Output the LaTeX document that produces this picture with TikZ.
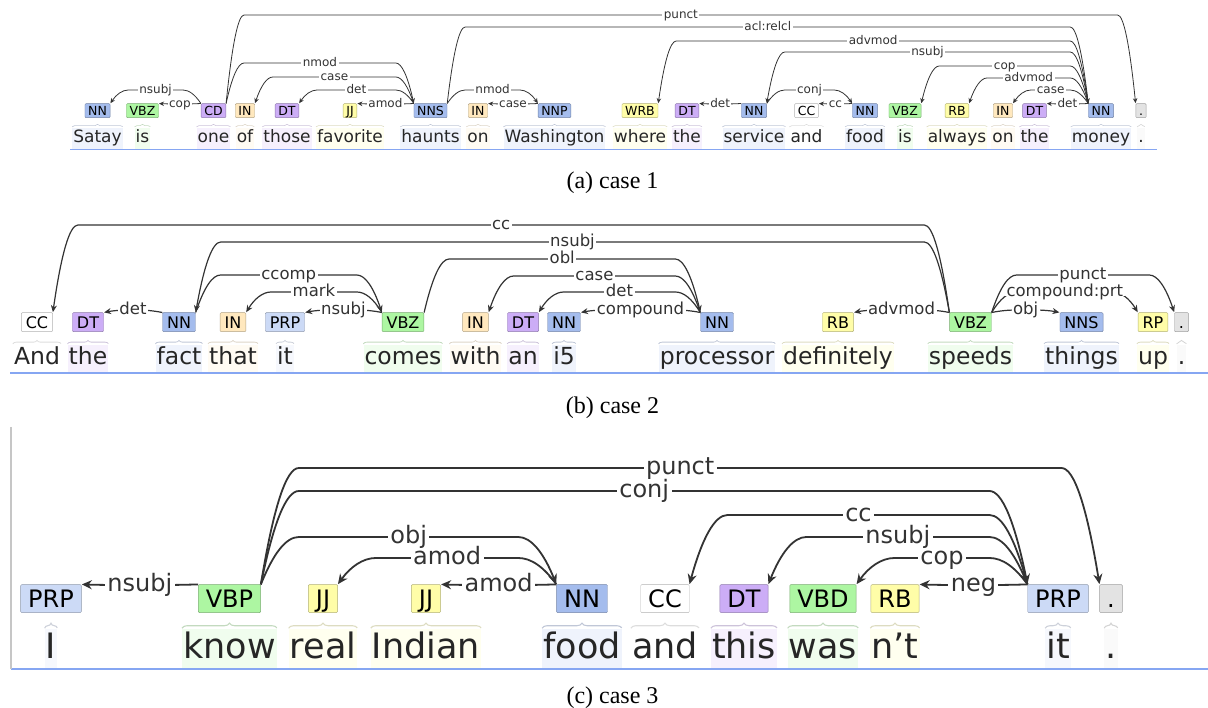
\documentclass[tikz,border=0pt]{standalone}
\usepackage{fontspec}
\setmainfont{Liberation Serif}
\newfontfamily\bratfont{DejaVu Sans}
\usetikzlibrary{positioning,calc,arrows.meta,decorations.pathreplacing}

\definecolor{nnc}{HTML}{A4BCED}
\definecolor{prpc}{HTML}{CCDAF6}
\definecolor{vbc}{HTML}{ADF6A2}
\definecolor{dtc}{HTML}{CCADF6}
\definecolor{inc}{HTML}{FFE8BE}
\definecolor{jjc}{HTML}{FFFDA8}
\definecolor{ccc}{HTML}{FFFFFF}
\definecolor{dotc}{HTML}{E3E3E3}
\definecolor{rulec}{HTML}{86A6F2}

\tikzset{
  word/.style={anchor=base,inner xsep=1pt,inner ysep=2pt,text=black!85},
  tag/.style={draw,rounded corners=1pt,inner ysep=0pt,text depth=0pt},
  lbl/.style={fill=white,inner xsep=1.5pt,inner ysep=0pt,text depth=0pt,text=black!80},
  deparc/.style={->,draw=black!80},
  caption/.style={anchor=base,font=\fontsize{24}{28}\selectfont},
  rule/.style={draw=rulec,line width=1.5pt}
}

% word with its tag above it: name, x, word, tag, colour
\newcommand{\wtok}[5]{%
  \node[word,fill=#5!18] (w#1) at (#2,\wbase) {#3};
  \node[tag,fill=#5,draw=#5!70!black,above=\tgap of w#1] (t#1) {#4};
  \draw[brace,draw=#5!70!black!45] ([yshift=1pt]w#1.north west) -- ([yshift=1pt]w#1.north east);
}

% dependency arc: head anchor, dependent anchor, level, label
\newcommand{\deparc}[4]{%
  \path (#1 |- 0,#3) coordinate (la) (#2 |- 0,#3) coordinate (lb);
  \path ($(la)!\abend!(lb)$) coordinate (ca) ($(lb)!\abend!(la)$) coordinate (cb)
        ($(la)!0.5*\abend!(lb)$) coordinate (qa) ($(lb)!0.5*\abend!(la)$) coordinate (qb);
  \draw[deparc] (#1) .. controls ($(#1)!0.667!(qa)$) and ($(ca)!0.667!(qa)$) .. (ca)
    -- node[lbl] {#4} (cb) .. controls ($(cb)!0.667!(qb)$) and ($(#2)!0.667!(qb)$) .. (#2);
}

\begin{document}
\begin{tikzpicture}[x=1pt,y=-1pt,shorten >=0.3pt]
\useasboundingbox (0,0) rectangle (1208,708);

%% case 1
\begin{scope}[word/.append style={font=\bratfont\fontsize{17}{17}\selectfont,text height=12.9pt,text depth=4pt},
  tag/.append style={font=\bratfont\fontsize{12.5}{12.5}\selectfont,text height=9.1pt,minimum height=14pt,inner xsep=3.2pt},
  lbl/.append style={font=\bratfont\fontsize{12}{12}\selectfont,text height=6.5pt},
  deparc/.append style={line width=0.8pt},
  brace/.style={decorate,decoration={brace,amplitude=2.5pt},line width=0.6pt},
  >={Stealth[length=5pt,width=4.5pt]}]
\def\wbase{143}\def\tgap{10pt}\def\abend{18pt}

\wtok{asatay}{97.5}{Satay}{NN}{nnc}
\wtok{aisA}{142.5}{is}{VBZ}{vbc}
\wtok{aone}{213.5}{one}{CD}{dtc}
\wtok{aof}{245}{of}{IN}{inc}
\wtok{athose}{287}{those}{DT}{dtc}
\wtok{afav}{350}{favorite}{JJ}{jjc}
\wtok{ahaunts}{430.5}{haunts}{NNS}{nnc}
\wtok{aonA}{478}{on}{IN}{inc}
\wtok{awash}{554.5}{Washington}{NNP}{nnc}
\wtok{awhere}{640}{where}{WRB}{jjc}
\wtok{atheA}{687}{the}{DT}{dtc}
\wtok{aservice}{754}{service}{NN}{nnc}
\wtok{aand}{806.5}{and}{CC}{ccc}
\wtok{afood}{865}{food}{NN}{nnc}
\wtok{aisB}{905}{is}{VBZ}{vbc}
\wtok{aalways}{957}{always}{RB}{jjc}
\wtok{aonB}{1003}{on}{IN}{inc}
\wtok{atheB}{1034.5}{the}{DT}{dtc}
\wtok{amoney}{1101}{money}{NN}{nnc}
\wtok{adot}{1141}{.}{.}{dotc}

\deparc{taone.north east}{tadot.north west}{15}{punct}
\deparc{tahaunts.north east}{tamoney.north west}{27}{acl:relcl}
\deparc{tamoney.north west}{tawhere.north east}{41}{advmod}
\deparc{tamoney.north west}{taservice.north east}{52}{nsubj}
\deparc{tamoney.north west}{taisB.north east}{66}{cop}
\deparc{tamoney.north west}{taalways.north east}{78}{advmod}
\deparc{tamoney.north west}{taonB.north east}{90}{case}
\deparc{tamoney.north west}{tatheB.north east}{104}{det}
\deparc{taservice.north east}{tafood.north west}{90}{conj}
\deparc{tafood.north west}{taand.north east}{104}{cc}
\deparc{taservice.north west}{tatheA.north east}{104}{det}
\deparc{tahaunts.north east}{tawash.north west}{90}{nmod}
\deparc{tawash.north west}{taonA.north east}{104}{case}
\deparc{taone.north east}{tahaunts.north west}{63}{nmod}
\deparc{tahaunts.north west}{taof.north east}{77}{case}
\deparc{tahaunts.north west}{tathose.north east}{90}{det}
\deparc{tahaunts.north west}{tafav.north east}{104}{amod}
\deparc{taone.north west}{tasatay.north east}{90}{nsubj}
\deparc{taone.north west}{taisA.north east}{104}{cop}

\draw[rule,line width=1.2pt] (70,149.5) -- (1157,149.5);
\end{scope}
\node[caption] (capa) at (612.5,189) {(a) case 1};

%% case 2
\begin{scope}[word/.append style={font=\bratfont\fontsize{23.5}{23.5}\selectfont,text height=17.9pt,text depth=5.6pt},
  tag/.append style={font=\bratfont\fontsize{16}{16}\selectfont,text height=11.7pt,minimum height=19pt,inner xsep=4.5pt},
  lbl/.append style={font=\bratfont\fontsize{16.5}{16.5}\selectfont,text height=9pt},
  deparc/.append style={line width=1.2pt},
  brace/.style={decorate,decoration={brace,amplitude=3.5pt},line width=0.8pt},
  >={Stealth[length=7pt,width=6pt]}]
\def\wbase{365}\def\tgap{13pt}\def\abend{25pt}

\wtok{band}{37}{And}{CC}{ccc}
\wtok{bthe}{88}{the}{DT}{dtc}
\wtok{bfact}{179}{fact}{NN}{nnc}
\wtok{bthat}{233}{that}{IN}{inc}
\wtok{bit}{285}{it}{PRP}{prpc}
\wtok{bcomes}{403}{comes}{VBZ}{vbc}
\wtok{bwith}{475.5}{with}{IN}{inc}
\wtok{ban}{523}{an}{DT}{dtc}
\wtok{bifive}{564}{i5}{NN}{nnc}
\wtok{bproc}{717}{processor}{NN}{nnc}
\wtok{bdef}{838}{definitely}{RB}{jjc}
\wtok{bspeeds}{970.5}{speeds}{VBZ}{vbc}
\wtok{bthings}{1081.5}{things}{NNS}{nnc}
\wtok{bup}{1153}{up}{RP}{jjc}
\wtok{bdot}{1181.5}{.}{.}{dotc}

\deparc{tbspeeds.north west}{tband.north east}{225}{cc}
\deparc{tbspeeds.north west}{tbfact.north east}{242}{nsubj}
\deparc{tbcomes.north east}{tbproc.north west}{259}{obl}
\deparc{tbfact.north east}{tbcomes.north west}{275}{ccomp}
\deparc{tbcomes.north west}{tbthat.north east}{292}{mark}
\deparc{tbcomes.north west}{tbit.north east}{310}{nsubj}
\deparc{tbfact.north west}{tbthe.north east}{310}{det}
\deparc{tbproc.north west}{tbwith.north east}{276}{case}
\deparc{tbproc.north west}{tban.north east}{292}{det}
\deparc{tbproc.north west}{tbifive.north east}{310}{compound}
\deparc{tbspeeds.north west}{tbdef.north east}{310}{advmod}
\deparc{tbspeeds.north east}{tbthings.north west}{310}{obj}
\deparc{tbspeeds.north east}{tbup.north west}{292}{compound:prt}
\deparc{tbspeeds.north east}{tbdot.north west}{275}{punct}

\draw[rule] (10,373) -- (1208,373);
\end{scope}
\node[caption] (capb) at (612.5,414) {(b) case 2};

%% case 3
\begin{scope}[word/.append style={font=\bratfont\fontsize{35}{35}\selectfont,text height=26.6pt,text depth=8.4pt},
  tag/.append style={font=\bratfont\fontsize{24}{24}\selectfont,text height=17.5pt,minimum height=28pt,inner xsep=7.5pt},
  lbl/.append style={font=\bratfont\fontsize{24}{24}\selectfont,text height=13pt,inner xsep=2.5pt},
  deparc/.append style={line width=1.8pt},
  brace/.style={decorate,decoration={brace,amplitude=5pt},line width=1.1pt},
  >={Stealth[length=10pt,width=9pt]}]
\def\wbase{658}\def\tgap{16.4pt}\def\abend{38pt}

\wtok{cI}{51}{I}{PRP}{prpc}
\wtok{cknow}{229.5}{know}{VBP}{vbc}
\wtok{creal}{323}{real}{JJ}{jjc}
\wtok{cindian}{426}{Indian}{JJ}{jjc}
\wtok{cfood}{582}{food}{NN}{nnc}
\wtok{cand}{665}{and}{CC}{ccc}
\wtok{cthis}{744}{this}{DT}{dtc}
\wtok{cwas}{823}{was}{VBD}{vbc}
\wtok{cnt}{895}{n’t}{RB}{jjc}
\wtok{cit}{1058}{it}{PRP}{prpc}
\wtok{cdot}{1111}{.}{.}{dotc}

\deparc{tcknow.north east}{tcdot.north west}{468}{punct}
\deparc{tcknow.north east}{tcit.north west}{491}{conj}
\deparc{tcknow.north east}{tcfood.north west}{537}{obj}
\deparc{tcfood.north west}{tcreal.north east}{558}{amod}
\deparc{tcfood.north west}{tcindian.north east}{585}{amod}
\deparc{tcknow.north west}{tcI.north east}{585}{nsubj}
\deparc{tcit.north west}{tcand.north east}{515}{cc}
\deparc{tcit.north west}{tcthis.north east}{537}{nsubj}
\deparc{tcit.north west}{tcwas.north east}{558}{cop}
\deparc{tcit.north west}{tcnt.north east}{585}{neg}

\draw[rule,line width=2pt] (11,669) -- (1208,669);
\draw[gray!45,line width=1.5pt] (11,427) -- (11,669);
\end{scope}
\node[caption] (capc) at (612.5,703) {(c) case 3};
\end{tikzpicture}
\end{document}
